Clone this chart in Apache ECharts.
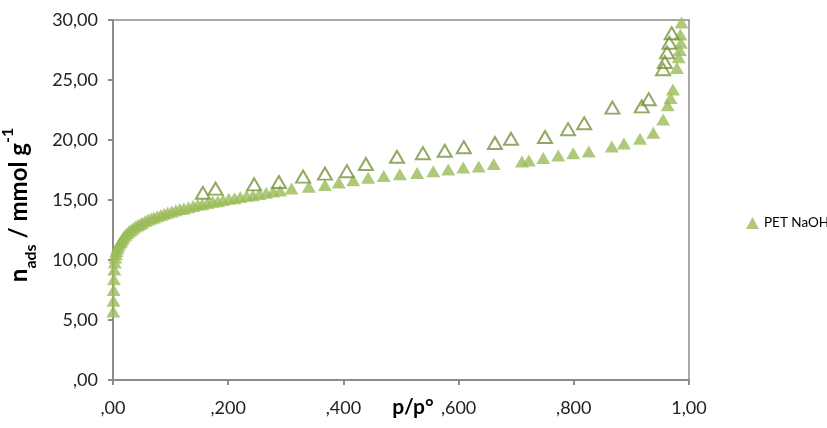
<!DOCTYPE html>
<html>
<head>
<meta charset="utf-8">
<script src="https://cdn.jsdelivr.net/npm/echarts@6/dist/echarts.min.js"></script>
<style>
  html, body { margin: 0; padding: 0; background: #fff; }
  #chart { width: 827px; height: 428px; }
</style>
</head>
<body>
<div id="chart"></div>
<script>
// Adsorption branch (p/p°, n in mmol/g)
const adsP = [0.0005, 0.0008, 0.0012, 0.0016, 0.0022, 0.003, 0.004, 0.005, 0.006, 0.0075,
  0.009, 0.011, 0.013, 0.015, 0.017, 0.019, 0.022, 0.025, 0.028, 0.031,
  0.035, 0.039, 0.043, 0.047, 0.051, 0.056, 0.061, 0.066, 0.071, 0.077,
  0.083, 0.089, 0.095, 0.102, 0.109, 0.116, 0.123, 0.131, 0.139, 0.147,
  0.155, 0.164, 0.173, 0.182, 0.191, 0.201, 0.211, 0.221, 0.232, 0.243,
  0.254, 0.266, 0.278, 0.290, 0.310, 0.340, 0.368, 0.392,
  0.417, 0.443, 0.470, 0.498, 0.528, 0.556, 0.582, 0.608, 0.635, 0.661,
  0.710, 0.722, 0.747, 0.773, 0.799, 0.826, 0.866, 0.887, 0.915, 0.938,
  0.955, 0.963, 0.968, 0.972, 0.979, 0.982, 0.984, 0.986, 0.985, 0.987];
const adsN = [5.7, 6.6, 7.5, 8.4, 9.2, 9.8, 10.2, 10.5, 10.75, 10.95,
  11.15, 11.35, 11.5, 11.65, 11.8, 11.95, 12.1, 12.25, 12.4, 12.5,
  12.65, 12.8, 12.9, 13.0, 13.1, 13.25, 13.35, 13.45, 13.55, 13.65,
  13.75, 13.85, 13.95, 14.05, 14.15, 14.25, 14.3, 14.4, 14.5, 14.6,
  14.65, 14.75, 14.85, 14.9, 15.0, 15.1, 15.15, 15.25, 15.35, 15.4,
  15.5, 15.6, 15.7, 15.8, 15.95, 16.1, 16.25, 16.45,
  16.65, 16.85, 17.0, 17.15, 17.25, 17.4, 17.55, 17.7, 17.8, 18.0,
  18.2, 18.3, 18.5, 18.7, 18.9, 19.05, 19.45, 19.7, 20.1, 20.6,
  21.7, 22.9, 23.5, 24.2, 26.0, 26.9, 27.5, 28.1, 28.8, 29.8];

// Desorption branch
const desP = [0.970, 0.966, 0.962, 0.958, 0.955, 0.930, 0.918, 0.867, 0.818, 0.790,
  0.750, 0.691, 0.663, 0.609, 0.576, 0.538, 0.493, 0.439, 0.406, 0.368,
  0.330, 0.288, 0.245, 0.178, 0.156];
const desN = [28.9, 28.1, 27.3, 26.5, 25.9, 23.4, 22.8, 22.7, 21.4, 20.9,
  20.25, 20.1, 19.75, 19.4, 19.1, 18.9, 18.6, 18.0, 17.4, 17.2,
  16.95, 16.5, 16.3, 15.95, 15.6];

const xTickLabels = [',00', ',200', ',400', ',600', ',800', '1,00'];
const yTickLabels = [',00', '5,00', '10,00', '15,00', '20,00', '25,00', '30,00'];

const seriesName = 'PET NaOH';
const fillColor = '#9BBB59';
const lineColor = '#77933C';
const font = 'Lato, "Open Sans", sans-serif';

const zip = (a, b) => a.map((v, i) => [v, b[i]]);

const chart = echarts.init(document.getElementById('chart'), null, { renderer: 'canvas' });
chart.setOption({
  animation: false,
  backgroundColor: '#fff',
  grid: {
    left: 113, right: 138, top: 20, bottom: 48,
    containLabel: false, outerBoundsMode: 'none',
    show: true, borderColor: '#8c8c8c', borderWidth: 1.5, backgroundColor: 'transparent'
  },
  legend: {
    data: [seriesName],
    left: 746, top: 216, padding: 0,
    itemWidth: 13, itemHeight: 12, itemGap: 5,
    textStyle: { fontFamily: font, fontSize: 13.5, color: '#000' }
  },
  xAxis: {
    type: 'value', min: 0, max: 1, interval: 0.2,
    name: 'p/p°',
    nameLocation: 'middle', nameGap: 17, nameMoveOverlap: false,
    nameTextStyle: { fontFamily: font, fontSize: 21, fontWeight: 'bold', color: '#000', padding: [0, 0, 0, 24] },
    axisLine: { show: true, lineStyle: { color: '#8c8c8c', width: 2 } },
    axisTick: { show: true, inside: false, length: 5, lineStyle: { color: '#8c8c8c', width: 2 } },
    axisLabel: {
      margin: 19, fontFamily: font, fontSize: 18, color: '#222',
      formatter: v => xTickLabels[Math.round(v / 0.2)]
    },
    splitLine: { show: false }
  },
  yAxis: {
    type: 'value', min: 0, max: 30, interval: 5,
    name: '{b|n}{sub|ads}{b| / mmol g}{sup|-1}',
    nameLocation: 'middle', nameGap: 79, nameRotate: 90, nameMoveOverlap: false,
    nameTextStyle: {
      padding: [0, 0, 0, -10],
      rich: {
        b: { fontFamily: font, fontSize: 24, fontWeight: 'bold', color: '#000', lineHeight: 30, verticalAlign: 'middle' },
        sub: { fontFamily: font, fontSize: 16, fontWeight: 'bold', color: '#000', verticalAlign: 'bottom', lineHeight: 30, padding: [0, 0, -5, 0] },
        sup: { fontFamily: font, fontSize: 16, fontWeight: 'bold', color: '#000', verticalAlign: 'top', lineHeight: 30, padding: [-4, 0, 0, 0] }
      }
    },
    axisLine: { show: true, lineStyle: { color: '#8c8c8c', width: 2 } },
    axisTick: { show: true, inside: false, length: 5, lineStyle: { color: '#8c8c8c', width: 2 } },
    axisLabel: {
      margin: 15, fontFamily: font, fontSize: 18, color: '#222',
      formatter: v => yTickLabels[Math.round(v / 5)]
    },
    splitLine: { show: false }
  },
  series: [
    {
      name: seriesName,
      type: 'scatter',
      symbol: 'triangle',
      symbolSize: [14, 12],
      itemStyle: { color: fillColor },
      data: zip(adsP, adsN)
    },
    {
      name: 'desorption',
      type: 'scatter',
      symbol: 'triangle',
      symbolSize: [14, 12],
      itemStyle: { color: 'rgba(255,255,255,0)', borderColor: lineColor, borderWidth: 2 },
      data: zip(desP, desN)
    }
  ]
});
</script>
</body>
</html>
